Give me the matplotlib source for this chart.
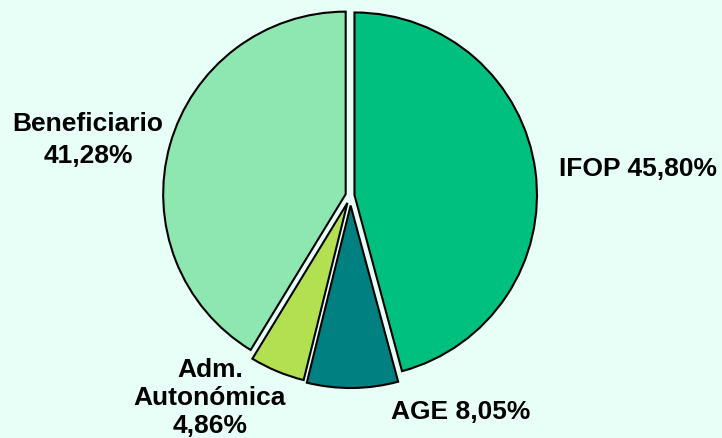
import matplotlib
matplotlib.use("Agg")
import matplotlib.pyplot as plt
import numpy as np

labels = ["IFOP 45,80%", "AGE 8,05%", "Adm.\nAutonómica\n4,86%", "Beneficiario\n41,28%"]
values = [45.80, 8.05, 4.86, 41.28]
colors = ["#00C080", "#008080", "#B3E050", "#8EE6B0"]

bg = "#E8FFF8"
fig = plt.figure(figsize=(7.22, 4.38), dpi=100, facecolor=bg)
ax = fig.add_axes([0, 0, 1, 1])
ax.set_facecolor(bg)

cx, cy, R = 350.5, 242.5, 182.5
ax.pie(values, colors=colors, startangle=90, counterclock=False,
       explode=[4, 10, 8, 5], radius=R, center=(cx, cy), frame=True,
       wedgeprops=dict(edgecolor="black", linewidth=1.5))
ax.set_xlim(0, 722)
ax.set_ylim(0, 438)
ax.set_aspect("equal")
ax.axis("off")

font = dict(family="Liberation Sans", weight="bold", fontsize=19, color="black")
label_pos = [(638, 438 - 169), (461, 438 - 412), (210, 438 - 398), (88, 438 - 140)]
spacing = [1.2, 1.2, 1.22, 1.38]
for lab, (x, y), ls in zip(labels, label_pos, spacing):
    ax.text(x, y, lab, ha="center", va="center", linespacing=ls, **font)

fig.savefig("out.png", dpi=100, facecolor=bg)
